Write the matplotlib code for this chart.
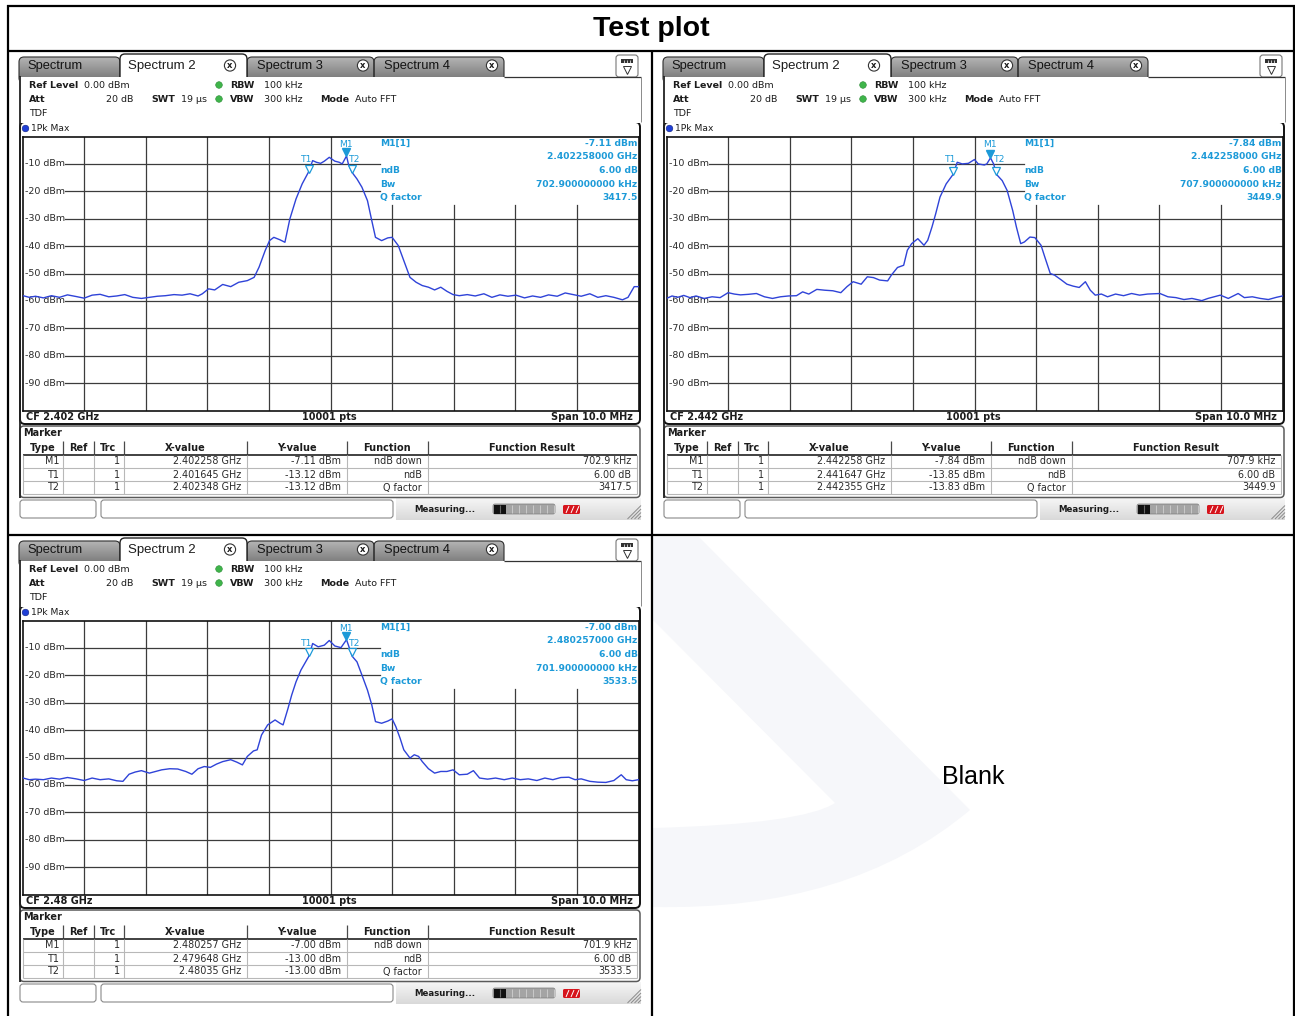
import matplotlib
matplotlib.use("Agg")
import matplotlib.pyplot as plt
import matplotlib.colors as mcolors
from matplotlib.patches import FancyBboxPatch, Rectangle, Circle, PathPatch
from matplotlib.path import Path
from matplotlib.transforms import blended_transform_factory
import numpy as np

W, H = 1295, 1016

# ---- data ----
CF_GHZ = [2.402, 2.442, 2.48]
CF_LABELS = ["CF 2.402 GHz", "CF 2.442 GHz", "CF 2.48 GHz"]
SPAN_LABEL = "Span 10.0 MHz"
POINTS_LABEL = "10001 pts"
LEVEL_TICKS = [-10, -20, -30, -40, -50, -60, -70, -80, -90]

# (offset from CF in MHz, level in dBm)
TRACE_1 = [
    (-4.99, -58.1), (-4.89, -58.7), (-4.79, -58.3), (-4.66, -58.9), (-4.53, -58.1),
    (-4.40, -58.7), (-4.27, -57.8), (-4.13, -58.4), (-4.00, -59.0), (-3.87, -57.9),
    (-3.74, -57.6), (-3.60, -58.5), (-3.47, -58.2), (-3.34, -57.7), (-3.21, -58.7),
    (-3.07, -59.1), (-2.94, -58.7), (-2.81, -58.3), (-2.68, -58.1), (-2.54, -57.7),
    (-2.41, -57.9), (-2.28, -57.4), (-2.15, -58.2), (-2.08, -57.4), (-1.98, -55.6),
    (-1.88, -56.0), (-1.75, -54.0), (-1.62, -54.8), (-1.49, -53.2), (-1.35, -52.6),
    (-1.24, -51.4), (-1.16, -47.7), (-1.06, -41.6), (-0.99, -38.0), (-0.92, -36.8),
    (-0.82, -37.7), (-0.74, -38.6), (-0.66, -30.1), (-0.56, -22.8), (-0.46, -17.3),
    (-0.36, -13.1), (-0.29, -8.8), (-0.23, -9.4), (-0.16, -9.8), (-0.10, -9.0),
    (-0.02, -7.6), (0.07, -9.0), (0.14, -9.4), (0.19, -10.0), (0.26, -7.1),
    (0.29, -10.0), (0.35, -13.1), (0.43, -15.5), (0.51, -18.5), (0.60, -23.4),
    (0.67, -30.7), (0.73, -36.8), (0.83, -38.0), (0.93, -37.0), (1.00, -36.8),
    (1.10, -39.8), (1.19, -45.3), (1.29, -51.4), (1.39, -53.2), (1.49, -54.4),
    (1.59, -55.0), (1.69, -56.0), (1.79, -55.0), (1.89, -56.5), (1.99, -57.7),
    (2.09, -58.1), (2.22, -57.7), (2.35, -58.2), (2.49, -57.4), (2.62, -58.7),
    (2.75, -57.8), (2.88, -58.3), (3.01, -57.9), (3.15, -58.9), (3.28, -58.2),
    (3.41, -58.7), (3.54, -57.8), (3.68, -58.3), (3.81, -57.1), (3.94, -57.7),
    (4.07, -58.3), (4.21, -57.4), (4.34, -58.7), (4.47, -58.1), (4.60, -58.7),
    (4.74, -59.6), (4.83, -58.7), (4.93, -54.8), (5.00, -54.8),
]
TRACE_2 = [
    (-5.00, -59.1), (-4.91, -58.2), (-4.82, -58.7), (-4.72, -58.0), (-4.62, -58.8),
    (-4.52, -58.2), (-4.39, -59.1), (-4.26, -58.5), (-4.13, -58.8), (-4.00, -57.0),
    (-3.90, -57.5), (-3.80, -57.8), (-3.67, -57.6), (-3.54, -57.3), (-3.41, -58.5),
    (-3.28, -59.1), (-3.15, -58.5), (-3.02, -58.2), (-2.89, -58.1), (-2.79, -56.7),
    (-2.69, -57.5), (-2.56, -55.8), (-2.43, -56.1), (-2.30, -56.3), (-2.17, -57.0),
    (-2.07, -54.8), (-1.97, -53.0), (-1.84, -53.9), (-1.74, -51.2), (-1.64, -51.5),
    (-1.54, -52.4), (-1.41, -52.7), (-1.35, -50.6), (-1.25, -47.8), (-1.15, -47.0),
    (-1.09, -41.5), (-1.02, -39.1), (-0.92, -37.3), (-0.82, -39.7), (-0.76, -37.9),
    (-0.69, -33.0), (-0.63, -28.2), (-0.56, -22.1), (-0.46, -17.3), (-0.35, -13.9),
    (-0.28, -9.4), (-0.20, -10.0), (-0.10, -9.8), (0.00, -8.4), (0.06, -10.0),
    (0.16, -10.4), (0.20, -10.0), (0.26, -7.8), (0.31, -10.0), (0.36, -13.9),
    (0.45, -16.1), (0.53, -19.7), (0.62, -27.0), (0.68, -33.0), (0.75, -39.1),
    (0.81, -38.5), (0.90, -36.7), (0.98, -36.9), (1.08, -39.7), (1.14, -43.9),
    (1.23, -50.0), (1.30, -50.6), (1.40, -52.2), (1.50, -53.9), (1.60, -54.6),
    (1.70, -55.1), (1.80, -53.0), (1.88, -56.1), (1.96, -57.9), (2.06, -57.5),
    (2.16, -58.5), (2.29, -57.5), (2.42, -58.1), (2.55, -57.3), (2.68, -57.9),
    (2.81, -57.5), (3.01, -57.3), (3.14, -58.5), (3.27, -58.8), (3.40, -59.5),
    (3.53, -59.1), (3.69, -59.9), (3.79, -59.1), (3.99, -57.9), (4.12, -59.1),
    (4.28, -57.3), (4.38, -58.8), (4.51, -58.5), (4.64, -59.1), (4.77, -59.5),
    (4.90, -58.7), (5.00, -58.2),
]
TRACE_3 = [
    (-4.99, -57.5), (-4.89, -58.1), (-4.79, -57.9), (-4.66, -58.1), (-4.53, -57.5),
    (-4.40, -57.9), (-4.27, -57.3), (-4.13, -57.8), (-4.00, -58.4), (-3.87, -57.5),
    (-3.74, -58.1), (-3.60, -57.8), (-3.47, -58.5), (-3.37, -58.7), (-3.27, -56.1),
    (-3.17, -55.3), (-3.07, -54.8), (-2.94, -55.7), (-2.84, -55.1), (-2.74, -54.5),
    (-2.61, -54.1), (-2.48, -54.2), (-2.35, -55.1), (-2.25, -56.1), (-2.15, -54.1),
    (-2.05, -53.3), (-1.95, -53.6), (-1.85, -52.4), (-1.75, -51.5), (-1.62, -50.8),
    (-1.52, -51.7), (-1.43, -52.7), (-1.35, -49.6), (-1.25, -47.6), (-1.19, -47.2),
    (-1.12, -41.8), (-1.02, -38.1), (-0.90, -36.3), (-0.82, -37.5), (-0.77, -38.1),
    (-0.69, -32.1), (-0.63, -27.2), (-0.56, -22.4), (-0.48, -18.1), (-0.35, -13.0),
    (-0.29, -8.4), (-0.20, -9.6), (-0.10, -9.0), (-0.02, -7.3), (0.07, -9.3),
    (0.17, -9.9), (0.26, -7.0), (0.30, -9.6), (0.35, -13.0), (0.43, -15.1),
    (0.51, -19.9), (0.60, -25.4), (0.67, -30.8), (0.73, -36.9), (0.83, -37.5),
    (0.93, -36.7), (1.00, -35.9), (1.06, -38.7), (1.13, -43.0), (1.19, -47.2),
    (1.29, -50.2), (1.36, -49.0), (1.43, -49.6), (1.49, -51.5), (1.59, -54.1),
    (1.69, -55.7), (1.79, -55.1), (1.89, -55.1), (1.99, -54.5), (2.09, -56.3),
    (2.22, -56.1), (2.32, -54.8), (2.42, -57.5), (2.55, -57.9), (2.68, -57.5),
    (2.82, -58.1), (2.95, -57.5), (3.08, -58.1), (3.21, -57.8), (3.35, -58.4),
    (3.48, -57.5), (3.61, -58.1), (3.74, -57.3), (3.87, -57.2), (3.97, -58.1),
    (4.07, -57.8), (4.21, -58.7), (4.34, -59.0), (4.47, -59.1), (4.60, -58.4),
    (4.72, -56.3), (4.80, -58.1), (4.90, -58.5), (5.00, -58.1),
]
TRACES = [TRACE_1, TRACE_2, TRACE_3]

MARKER_TYPES = ["M1", "T1", "T2"]
MARKER_X = [
    ["2.402258 GHz", "2.401645 GHz", "2.402348 GHz"],
    ["2.442258 GHz", "2.441647 GHz", "2.442355 GHz"],
    ["2.480257 GHz", "2.479648 GHz", "2.48035 GHz"],
]
MARKER_Y = [
    ["-7.11 dBm", "-13.12 dBm", "-13.12 dBm"],
    ["-7.84 dBm", "-13.85 dBm", "-13.83 dBm"],
    ["-7.00 dBm", "-13.00 dBm", "-13.00 dBm"],
]
FUNCTIONS = ["ndB down", "ndB", "Q factor"]
FUNC_RESULTS = [
    ["702.9 kHz", "6.00 dB", "3417.5"],
    ["707.9 kHz", "6.00 dB", "3449.9"],
    ["701.9 kHz", "6.00 dB", "3533.5"],
]
M1_FREQ_TEXT = ["2.402258000 GHz", "2.442258000 GHz", "2.480257000 GHz"]
BW_TEXT = ["702.900000000 kHz", "707.900000000 kHz", "701.900000000 kHz"]
NDB_TEXT = "6.00 dB"

# where each screenshot sits on the page (pixel offset of the first one)
PANEL_OFFSETS = [(0, 0), (644, 0), (0, 484)]

TRACE_COLOR = "#2f43d8"
MARKER_COLOR = "#1c9ad8"
GRID_COLOR = "#3c3c3c"
TEXT_COLOR = "#1c1c1c"
UI_FONT = "DejaVu Sans"
DOC_FONT = "Liberation Sans"


def rbox(ax, x, y, w, h, r=4, fc="white", ec="black", lw=1.0, z=1):
    p = FancyBboxPatch((x, y), w, h, boxstyle=f"round,pad=0,rounding_size={r}",
                       fc=fc, ec=ec, lw=lw, zorder=z)
    ax.add_patch(p)
    return p


def txt(ax, x, y, s, size=6.8, bold=False, ha="left", color=TEXT_COLOR,
        family=UI_FONT, z=6):
    ax.text(x, y, s, fontsize=size, fontweight="bold" if bold else "normal",
            ha=ha, va="center", color=color, family=family, zorder=z)


def gradient(ax, x0, x1, y0, y1, top, bottom, clip=None, z=1.5):
    c0 = np.array(mcolors.to_rgb(top))
    c1 = np.array(mcolors.to_rgb(bottom))
    g = np.linspace(0, 1, 48)[:, None, None]
    img = c0 + (c1 - c0) * g
    im = ax.imshow(img, extent=(x0, x1, y1, y0), origin="upper", aspect="auto",
                   interpolation="bilinear", zorder=z)
    if clip is not None:
        im.set_clip_path(clip)


def line(ax, xs, ys, color="black", lw=1.0, z=5):
    ax.plot(xs, ys, color=color, lw=lw, zorder=z, solid_capstyle="butt")


def draw_tabs(bg, ox, oy):
    # inactive grey tabs
    for x0, x1, label in [(19, 120, "Spectrum"), (247, 374, "Spectrum 3"),
                          (374, 504, "Spectrum 4")]:
        p = rbox(bg, ox + x0, oy + 57, x1 - x0, 26, r=5, fc="none", ec="#2e2e2e",
                 lw=0.8, z=2)
        gradient(bg, ox + x0, ox + x1, oy + 57, oy + 83, "#b4b4b4", "#707070", clip=p)
        txt(bg, ox + x0 + 8 if label == "Spectrum" else ox + x0 + 10, oy + 66.5,
            label, size=9.3, family=DOC_FONT, color="#141414", z=4)
    # active tab
    rbox(bg, ox + 120, oy + 54, 127, 29, r=5, fc="white", ec="#222222", lw=1.0, z=2.6)
    txt(bg, ox + 128, oy + 65.5, "Spectrum 2", size=9.5, family=DOC_FONT, z=4)
    for cx in (230, 363, 492):
        bg.add_patch(Circle((ox + cx, oy + 65.5), 5.6, fc="white", ec="#333333",
                            lw=0.8, zorder=4))
        txt(bg, ox + cx, oy + 65.5, "x", size=6, bold=True, ha="center", z=5)
    # info area covers the tab bottoms
    bg.add_patch(Rectangle((ox + 19, oy + 77), 622, 46, fc="white", ec="none",
                           zorder=3))
    line(bg, [ox + 504, ox + 641], [oy + 77, oy + 77], color="#333333", lw=0.9)
    line(bg, [ox + 19.5, ox + 19.5], [oy + 76, oy + 498], color="#222222", lw=1.3)
    line(bg, [ox + 640.5, ox + 640.5], [oy + 77, oy + 122], color="#8a8a8a", lw=0.7)
    # display config icon
    rbox(bg, ox + 616, oy + 55, 22, 22, r=3, fc="white", ec="#777777", lw=0.8, z=4)
    bg.add_patch(Rectangle((ox + 621, oy + 59), 12, 4, fc="#333333", ec="none",
                           zorder=5))
    for sx in (624, 627, 630):
        line(bg, [ox + sx, ox + sx], [oy + 59.5, oy + 62.5], color="white", lw=0.5, z=6)
    bg.plot([ox + 627], [oy + 70], marker="v", ms=6, mfc="white", mec="#333333",
            mew=0.7, zorder=6)


def draw_settings(bg, ox, oy):
    txt(bg, ox + 29, oy + 85, "Ref Level", bold=True)
    txt(bg, ox + 84, oy + 85, "0.00 dBm")
    txt(bg, ox + 29, oy + 99, "Att", bold=True)
    txt(bg, ox + 133, oy + 99, "20 dB", ha="right")
    txt(bg, ox + 151, oy + 99, "SWT", bold=True)
    txt(bg, ox + 181, oy + 99, "19 µs")
    for yy, lab, val in [(85, "RBW", "100 kHz"), (99, "VBW", "300 kHz")]:
        bg.add_patch(Circle((ox + 219, oy + yy), 3.3, fc="#3fb54a", ec="#2a8a35",
                            lw=0.4, zorder=6))
        txt(bg, ox + 230, oy + yy, lab, bold=True)
        txt(bg, ox + 264, oy + yy, val)
    txt(bg, ox + 320, oy + 99, "Mode", bold=True)
    txt(bg, ox + 355, oy + 99, "Auto FFT")
    txt(bg, ox + 29, oy + 113, "TDF")


def draw_spectrum(fig, bg, ox, oy, i):
    cf = CF_GHZ[i]
    rbox(bg, ox + 20, oy + 122, 620, 302, r=5, fc="white", ec="#111111", lw=1.4, z=1)
    bg.add_patch(Circle((ox + 25.5, oy + 128.5), 3.3, fc="#1f3fd6", ec="#0e1f80",
                        lw=0.4, zorder=6))
    txt(bg, ox + 31, oy + 128.5, "1Pk Max", size=6.6)
    txt(bg, ox + 26, oy + 417, CF_LABELS[i], size=7, bold=True)
    txt(bg, ox + 329, oy + 417, POINTS_LABEL, size=7, bold=True, ha="center")
    txt(bg, ox + 633, oy + 417, SPAN_LABEL, size=7, bold=True, ha="right")

    ax = fig.add_axes([(ox + 22.5) / W, 1 - (oy + 410.5) / H, 616 / W, 274 / H])
    ax.set_xlim(-5, 5)
    ax.set_ylim(-100, 0)
    ax.set_xticks([])
    ax.set_yticks([])
    for s in ax.spines.values():
        s.set_color("#111111")
        s.set_linewidth(1.2)

    info_left = 0.80
    label_end = -4.31
    for k in range(-4, 5):
        top = -25 if k >= 1 else 0
        ax.plot([k, k], [-100, top], color=GRID_COLOR, lw=0.9, zorder=1)
    blend = blended_transform_factory(ax.transAxes, ax.transData)
    for lv in LEVEL_TICKS:
        right = info_left if lv >= -20 else 5
        ax.plot([label_end, right], [lv, lv], color=GRID_COLOR, lw=0.9, zorder=1)
        ax.text(0.004, lv, f"{lv} dBm", transform=blend, fontsize=6.8, ha="left",
                va="center", color="#2a2a2a", family=UI_FONT, zorder=2)

    f, db = zip(*TRACES[i])
    ax.plot(f, db, color=TRACE_COLOR, lw=1.0, zorder=3)

    mx = [(float(s.split()[0]) - cf) * 1000 for s in MARKER_X[i]]
    my = [float(s.split()[0]) for s in MARKER_Y[i]]
    ax.plot(mx[0], my[0] + 1.4, marker="v", ms=5.5, color=MARKER_COLOR, zorder=5)
    ax.plot(mx[1:], [v + 1.4 for v in my[1:]], ls="none", marker="v", ms=5.5,
            mfc="white", mec=MARKER_COLOR, mew=0.9, zorder=5)
    mk = dict(fontsize=6.6, color=MARKER_COLOR, ha="center", va="center",
              family=UI_FONT, zorder=6)
    ax.text(mx[0], -2.8, "M1", **mk)
    ax.text(mx[1] - 0.03, -8.3, "T1", **mk)
    ax.text(mx[2] + 0.05, -8.3, "T2", **mk)

    rows = [("M1[1]", MARKER_Y[i][0]), ("", M1_FREQ_TEXT[i]), ("ndB", NDB_TEXT),
            ("Bw", BW_TEXT[i]), ("Q factor", FUNC_RESULTS[i][2])]
    for k, (lab, val) in enumerate(rows):
        yy = -2.4 - 5.0 * k
        ax.text(info_left + 0.005, yy, lab, fontsize=6.6, fontweight="bold",
                color=MARKER_COLOR, ha="left", va="center", family=UI_FONT, zorder=6)
        ax.text(4.985, yy, val, fontsize=6.6, fontweight="bold", color=MARKER_COLOR,
                ha="right", va="center", family=UI_FONT, zorder=6)


def draw_marker_table(bg, ox, oy, i):
    rbox(bg, ox + 20, oy + 426, 620, 71.5, r=4, fc="white", ec="#5a5a5a", lw=1.1, z=1)
    txt(bg, ox + 23, oy + 433.5, "Marker", size=7, bold=True)
    cols = [22.5, 62.5, 93.5, 123.5, 246.5, 346.5, 427.5, 637]
    heads = ["Type", "Ref", "Trc", "X-value", "Y-value", "Function", "Function Result"]
    for c0, c1, hd in zip(cols[:-1], cols[1:], heads):
        txt(bg, ox + (c0 + c1) / 2, oy + 448, hd, size=7, bold=True, ha="center")
    for c in cols[1:-1]:
        line(bg, [ox + c, ox + c], [oy + 441, oy + 455], color="#4a4a4a", lw=0.9)
    line(bg, [ox + 22.5, ox + 637], [oy + 455, oy + 455], color="#333333", lw=1.3)
    for c in cols:
        line(bg, [ox + c, ox + c], [oy + 455, oy + 494], color="#b8b8b8", lw=0.8)
    for yy in (468, 481, 494):
        line(bg, [ox + 22.5, ox + 637], [oy + yy, oy + yy], color="#b8b8b8", lw=0.8)
    for r, yy in enumerate((461.5, 474.5, 487.5)):
        cells = [MARKER_TYPES[r], "", "1", MARKER_X[i][r], MARKER_Y[i][r],
                 FUNCTIONS[r], FUNC_RESULTS[i][r]]
        for c, val in enumerate(cells):
            pad = 3 if c < 3 else 5.5
            txt(bg, ox + cols[c + 1] - pad, oy + yy, val, size=6.9, ha="right",
                color="#2a2a2a")


def draw_status(bg, ox, oy):
    gradient(bg, ox + 396, ox + 641, oy + 498, oy + 520, "#f6f6f6", "#d9d9d9", z=0.5)
    rbox(bg, ox + 20, oy + 500, 76, 18, r=3, fc="white", ec="#8a8a8a", lw=0.8, z=2)
    rbox(bg, ox + 101, oy + 500, 292, 18, r=3, fc="white", ec="#8a8a8a", lw=0.8, z=2)
    txt(bg, ox + 414, oy + 509, "Measuring...", size=6.2, bold=True)
    rbox(bg, ox + 493, oy + 504, 62, 10, r=2, fc="#a4a4a4", ec="#7a7a7a", lw=0.5, z=2)
    bg.add_patch(Rectangle((ox + 493.5, oy + 504.5), 12, 9, fc="#111111", ec="none",
                           zorder=3))
    line(bg, [ox + 500, ox + 500], [oy + 505, oy + 513], color="#666666", lw=0.8)
    for sx in range(512, 555, 7):
        line(bg, [ox + sx, ox + sx], [oy + 505, oy + 513], color="#d0d0d0", lw=0.6)
    rbox(bg, ox + 563, oy + 505, 17, 9, r=1.5, fc="#d6141c", ec="none", z=3)
    for sx in (566, 571, 576):
        line(bg, [ox + sx, ox + sx + 3], [oy + 513, oy + 506], color="white", lw=0.7, z=4)
    for d in (3, 6.5, 10, 13.5):
        line(bg, [ox + 641 - d, ox + 641], [oy + 519, oy + 519 - d], color="#8a8a8a",
             lw=0.7, z=4)


def draw_watermark(bg):
    verts = [(653, 537), (699, 537), (970, 810), (850, 911), (653, 907),
             (653, 828), (803, 824), (835, 803), (653, 620), (653, 537)]
    codes = [Path.MOVETO, Path.LINETO, Path.LINETO, Path.CURVE3, Path.CURVE3,
             Path.LINETO, Path.CURVE3, Path.CURVE3, Path.LINETO, Path.CLOSEPOLY]
    bg.add_patch(PathPatch(Path(verts, codes), fc="#f6f7fa", ec="none", zorder=0.2))


def main():
    fig = plt.figure(figsize=(W / 100, H / 100), dpi=100, facecolor="white")
    bg = fig.add_axes([0, 0, 1, 1])
    bg.axis("off")

    draw_watermark(bg)
    # report table frame
    for y in (6, 51, 535):
        line(bg, [7, 1295], [y, y], lw=1.6, z=8)
    for x in (8, 1294):
        line(bg, [x, x], [5, 1016], lw=1.6, z=8)
    line(bg, [652, 652], [51, 1016], lw=1.6, z=8)
    bg.text(651, 29, "Test plot", fontsize=20.5, fontweight="bold", family=DOC_FONT,
            ha="center", va="center", color="black")
    bg.text(973, 777, "Blank", fontsize=18, family=DOC_FONT, ha="center",
            va="center", color="black", zorder=3)

    for i, (ox, oy) in enumerate(PANEL_OFFSETS):
        draw_tabs(bg, ox, oy)
        draw_settings(bg, ox, oy)
        draw_spectrum(fig, bg, ox, oy, i)
        draw_marker_table(bg, ox, oy, i)
        draw_status(bg, ox, oy)

    bg.set_xlim(0, W)
    bg.set_ylim(H, 0)
    fig.savefig("out.png", dpi=100, facecolor="white")
    plt.close(fig)


if __name__ == "__main__":
    main()
